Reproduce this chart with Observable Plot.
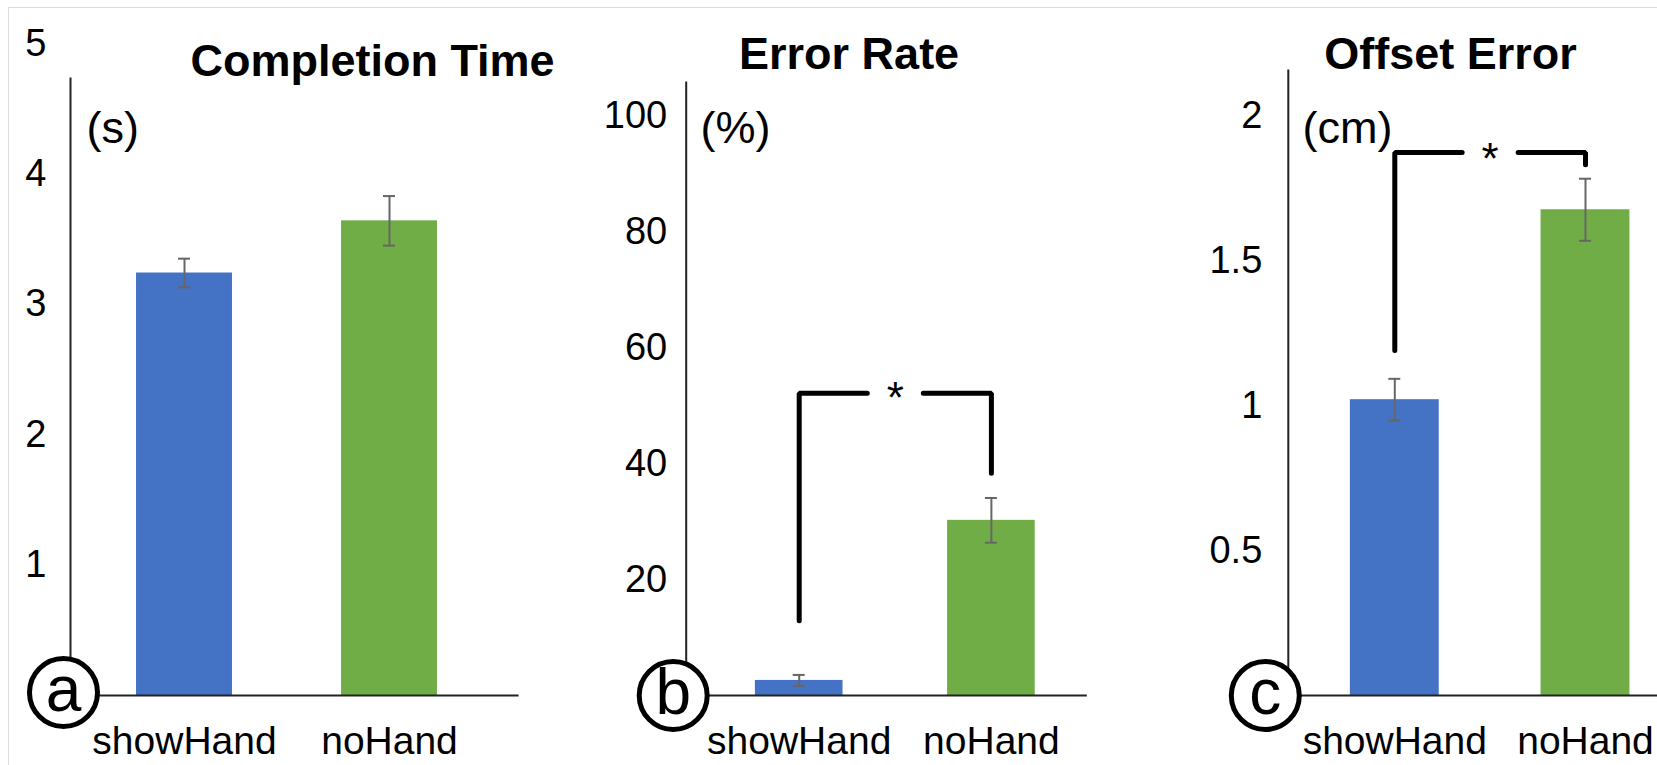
<!DOCTYPE html>
<html>
<head>
<meta charset="utf-8">
<script src="https://cdn.jsdelivr.net/npm/d3@7"></script>
<script src="https://cdn.jsdelivr.net/npm/@observablehq/plot@0.6"></script>
<style>
  html, body { margin: 0; padding: 0; background: #fff; }
  #root { position: relative; width: 1657px; height: 765px; overflow: hidden; background: #fff; }
  #root svg { position: absolute; left: 0; top: 0; }
  #border { position: absolute; left: 8px; top: 7px; right: -4px; bottom: -4px;
            border-left: 1px solid #dcdcdc; border-top: 1px solid #dcdcdc; }
</style>
</head>
<body>
<div id="root"><div id="border"></div></div>
<script>
// ---------- data ----------
const categories = ["showHand", "noHand"];

const completionMean = [3.24, 3.64];
const completionErr  = [0.11, 0.19];
const completionTicks = [1, 2, 3, 4, 5];

const errorRateMean = [2.6, 30.2];
const errorRateErr  = [0.95, 3.85];
const errorRateTicks = [20, 40, 60, 80, 100];
const errorRateBracket = [12.9, 52.1, 38.3];   // left drop, top, right drop

const offsetMean = [1.02, 1.675];
const offsetErr  = [0.072, 0.107];
const offsetTicks = [0.5, 1, 1.5, 2];
const offsetBracket = [1.19, 1.872, 1.83];

const panelTitles = ["Completion Time", "Error Rate", "Offset Error"];
const panelUnits = ["(s)", "(%)", "(cm)"];
const panelLetters = ["a", "b", "c"];

// ---------- styles / layout ----------
const barColors = ["#4472C4", "#70AD47"];
const FONT = "'Liberation Sans', Arial, Helvetica, sans-serif";
const W = 1657, H = 765, BASE = 695;

const panels = [
  {mean: completionMean, err: completionErr, ticks: completionTicks, yDomain: [0, 5], bracket: null,
   left: 70, right: 518.6, top: 78, yTop: 43, xRange: [184, 389], half: 0.234, tickPad: 24,
   cdx: -7, cdy: -3, titleX: 372, titleY: 75, unitX: 86},
  {mean: errorRateMean, err: errorRateErr, ticks: errorRateTicks, yDomain: [0, 100], bracket: errorRateBracket,
   left: 685.7, right: 1086.8, top: 82, yTop: 115, xRange: [798.7, 990.9], half: 0.228, tickPad: 19,
   cdx: -13, cdy: 0, titleX: 848.6, titleY: 68, unitX: 700, starDy: 20},
  {mean: offsetMean, err: offsetErr, ticks: offsetTicks, yDomain: [0, 2], bracket: offsetBracket,
   left: 1287.8, right: 1657, top: 70, yTop: 115, xRange: [1394.3, 1585], half: 0.233, tickPad: 26,
   cdx: -23, cdy: 0, titleX: 1450, titleY: 68, unitX: 1302, starDy: 21}
];

const root = document.getElementById("root");

panels.forEach((p, k) => {
  const rows = categories.map((c, i) => ({cat: c, i, mean: p.mean[i], err: p.err[i]}));
  const step = p.xRange[1] - p.xRange[0];
  const cap = 6 / step;
  const gap = 28 / step;

  const marks = [
    Plot.rect(rows, {x1: d => d.i - p.half, x2: d => d.i + p.half, y1: 0, y2: "mean", fill: "cat"}),
    Plot.ruleX(rows, {x: "i", y1: d => d.mean - d.err, y2: d => d.mean + d.err, stroke: "#666", strokeWidth: 2}),
    Plot.ruleY(rows, {y: d => d.mean + d.err, x1: d => d.i - cap, x2: d => d.i + cap, stroke: "#666", strokeWidth: 2}),
    Plot.ruleY(rows, {y: d => d.mean - d.err, x1: d => d.i - cap, x2: d => d.i + cap, stroke: "#666", strokeWidth: 2}),
    Plot.frame({anchor: "left", stroke: "#222", strokeWidth: 2}),
    Plot.ruleY([0], {stroke: "#222", strokeWidth: 2}),
    Plot.axisY({ticks: p.ticks, tickFormat: d => String(d), tickSize: 0, tickPadding: p.tickPad, fontSize: 38, label: null, anchor: "left"}),
    Plot.axisX({ticks: [0, 1], tickFormat: i => categories[i], tickSize: 0, tickPadding: 31, fontSize: 39, label: null, anchor: "bottom"}),
    Plot.dot([panelLetters[k]], {frameAnchor: "bottom-left", dx: p.cdx, dy: p.cdy, r: 34, fill: "white", stroke: "black", strokeWidth: 5}),
    Plot.text([panelLetters[k]], {frameAnchor: "bottom-left", dx: p.cdx, dy: p.cdy - 2, text: d => d, fontSize: 64, lineAnchor: "middle", textAnchor: "middle", fill: "black"}),
    Plot.text([panelTitles[k]], {frameAnchor: "top-left", dx: p.titleX - p.left, dy: p.titleY - p.top, text: d => d,
      fontSize: 45, fontWeight: "bold", lineAnchor: "bottom", textAnchor: "middle", fill: "black"}),
    Plot.text([panelUnits[k]], {frameAnchor: "top-left", dx: p.unitX - p.left, dy: 142 - p.top, text: d => d,
      fontSize: 45, lineAnchor: "bottom", textAnchor: "start", fill: "black"})
  ];

  if (p.bracket) {
    const [l, t, r] = p.bracket;
    const pts = [
      {x: 0, y: l, z: "L"}, {x: 0, y: t, z: "L"}, {x: 0.5 - gap, y: t, z: "L"},
      {x: 0.5 + gap, y: t, z: "R"}, {x: 1, y: t, z: "R"}, {x: 1, y: r, z: "R"}
    ];
    marks.push(Plot.line(pts, {x: "x", y: "y", z: "z", stroke: "black", strokeWidth: 5, strokeLinecap: "round", strokeLinejoin: "miter"}));
    marks.push(Plot.text(["*"], {x: 0.5, y: t, text: d => d, fontSize: 44, lineAnchor: "bottom", dy: p.starDy, fill: "black"}));
  }

  const svg = Plot.plot({
    width: W, height: H,
    marginLeft: p.left, marginRight: W - p.right, marginTop: p.top, marginBottom: H - BASE,
    x: {domain: [0, 1], range: p.xRange},
    y: {domain: p.yDomain, range: [BASE, p.yTop]},
    color: {domain: categories, range: barColors},
    style: {fontFamily: FONT, background: "transparent", overflow: "visible", color: "black"},
    marks
  });
  svg.style.position = "absolute";
  svg.style.left = "0px";
  svg.style.top = "0px";
  root.appendChild(svg);
});
</script>
</body>
</html>
